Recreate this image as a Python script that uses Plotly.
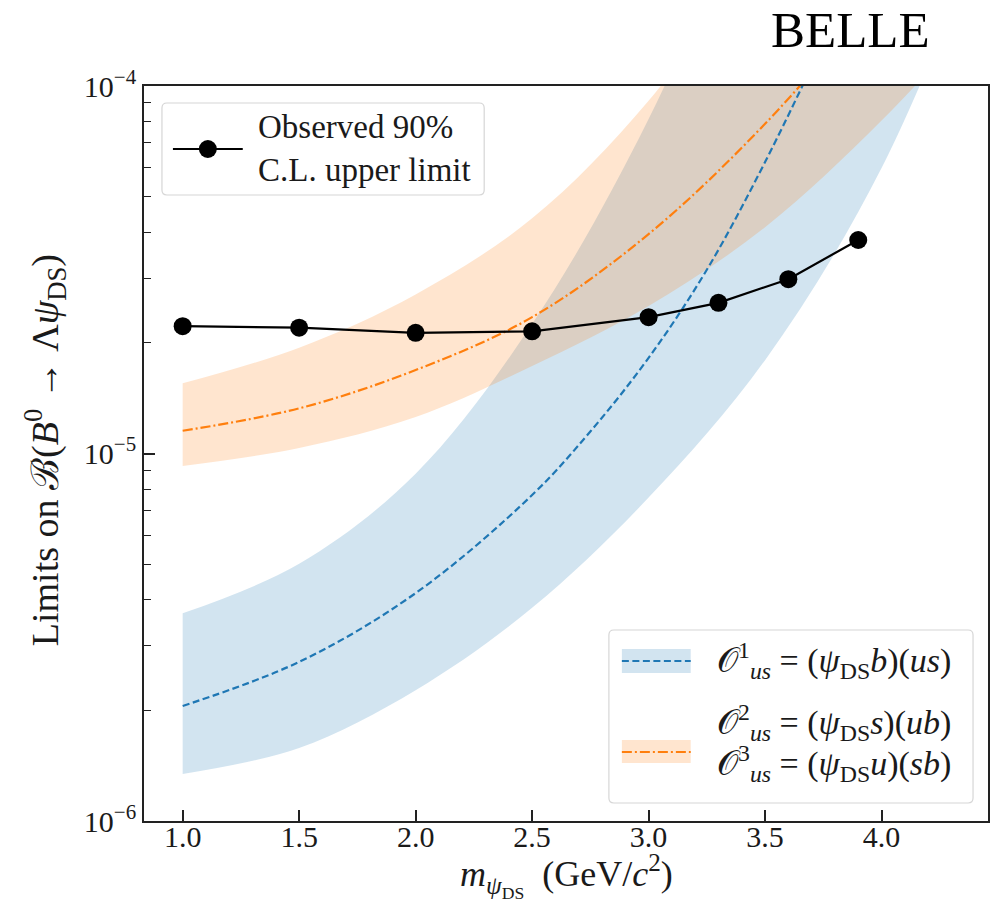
import plotly.graph_objects as go

# ---------------- data ----------------
band_grid = [1.0, 1.5, 2.0, 2.5, 3.0, 3.5, 4.0, 4.5]
o1_line_grid = [1.0, 1.5, 2.0, 2.5, 2.75, 3.0, 3.25, 3.5, 3.75]
o23_line_grid = [1.0, 1.5, 2.0, 2.5, 3.0, 3.5, 4.0]

# O1 (blue) central value and band
o1_central = [2.056e-6, 2.71e-6, 4.169e-6, 7.709e-6, 1.148e-5, 1.82e-5, 3.162e-5, 6.209e-5, 1.318e-4]
o1_upper = [3.673e-6, 5.01e-6, 8.81e-6, 2.25e-5, 8.13e-5, 4.47e-4, 3.55e-3, 3.98e-2]
o1_lower = [1.343e-6, 1.581e-6, 2.27e-6, 3.802e-6, 7.586e-6, 1.795e-5, 5.98e-5, 3.39e-4]

# O2/O3 (orange) central value and band
o23_central = [1.153e-5, 1.327e-5, 1.687e-5, 2.35e-5, 3.954e-5, 7.89e-5, 1.82e-4]
o23_upper = [1.552e-5, 1.941e-5, 2.71e-5, 4.365e-5, 9.12e-5, 2.51e-4, 7.94e-4, 2.8e-3]
o23_lower = [9.25e-6, 1.035e-5, 1.256e-5, 1.73e-5, 2.518e-5, 4.13e-5, 8.05e-5, 1.78e-4]

# Observed 90% C.L. upper limits
obs_mass = [1.0, 1.5, 2.0, 2.5, 3.0, 3.3, 3.6, 3.9]
obs_limit = [2.22e-5, 2.20e-5, 2.13e-5, 2.15e-5, 2.35e-5, 2.57e-5, 2.98e-5, 3.81e-5]

x_ticks = [1.0, 1.5, 2.0, 2.5, 3.0, 3.5, 4.0]
x_ticklabels = ["1.0", "1.5", "2.0", "2.5", "3.0", "3.5", "4.0"]
y_ticks = [1e-6, 1e-5, 1e-4]
y_ticklabels = ["10<sup>−6</sup>", "10<sup>−5</sup>", "10<sup>−4</sup>"]
y_minor = [m * 10 ** e for e in (-6, -5) for m in range(2, 10)]

# ---------------- style ----------------
BLUE = "#1f77b4"
ORANGE = "#ff7f0e"
BLUE_FILL = "rgba(31,119,180,0.2)"
ORANGE_FILL = "rgba(255,127,14,0.2)"
SERIF = "Liberation Serif, DejaVu Serif, serif"
TXT = "#1a1a1a"
W, H = 995, 903
L, R, T, B = 144, 990, 86, 821


def px(xp):
    return (xp - L) / (R - L)


def py(yp):
    return (B - yp) / (B - T)


fig = go.Figure()

# bands
fig.add_trace(go.Scatter(x=band_grid, y=o1_lower, mode="lines",
                         line=dict(width=0, shape="spline", color=BLUE),
                         hoverinfo="skip"))
fig.add_trace(go.Scatter(x=band_grid, y=o1_upper, mode="lines", fill="tonexty",
                         fillcolor=BLUE_FILL,
                         line=dict(width=0, shape="spline", color=BLUE),
                         hoverinfo="skip"))
fig.add_trace(go.Scatter(x=band_grid, y=o23_lower, mode="lines",
                         line=dict(width=0, shape="spline", color=ORANGE),
                         hoverinfo="skip"))
fig.add_trace(go.Scatter(x=band_grid, y=o23_upper, mode="lines", fill="tonexty",
                         fillcolor=ORANGE_FILL,
                         line=dict(width=0, shape="spline", color=ORANGE),
                         hoverinfo="skip"))

# central lines
fig.add_trace(go.Scatter(x=o1_line_grid, y=o1_central, mode="lines",
                         line=dict(color=BLUE, width=2.2, dash="7px,3.5px", shape="spline")))
fig.add_trace(go.Scatter(x=o23_line_grid, y=o23_central, mode="lines",
                         line=dict(color=ORANGE, width=2.2, dash="10px,3px,2px,3px", shape="spline")))

# observed limits
fig.add_trace(go.Scatter(x=obs_mass, y=obs_limit, mode="lines+markers",
                         line=dict(color="black", width=2.2),
                         marker=dict(color="black", size=18)))

shapes = []
annotations = []


def rounded_box(x0, y0, x1, y1, r=5):
    X0, X1 = px(x0), px(x1)
    Y0, Y1 = py(y0), py(y1)
    rx, ry = r / (R - L), r / (B - T)
    path = (f"M{X0+rx},{Y0} L{X1-rx},{Y0} Q{X1},{Y0} {X1},{Y0-ry} "
            f"L{X1},{Y1+ry} Q{X1},{Y1} {X1-rx},{Y1} L{X0+rx},{Y1} "
            f"Q{X0},{Y1} {X0},{Y1+ry} L{X0},{Y0-ry} Q{X0},{Y0} {X0+rx},{Y0} Z")
    shapes.append(dict(type="path", xref="paper", yref="paper", path=path,
                       line=dict(color="rgb(214,214,214)", width=1.2),
                       fillcolor="rgba(255,255,255,0.85)", layer="above"))


# legend 1
rounded_box(162, 103, 485, 195)
shapes.append(dict(type="line", xref="paper", yref="paper",
                   x0=px(173), x1=px(243), y0=py(149), y1=py(149),
                   line=dict(color="black", width=2.2), layer="above"))
shapes.append(dict(type="circle", xref="paper", yref="paper",
                   x0=px(208 - 9), x1=px(208 + 9), y0=py(149 - 9), y1=py(149 + 9),
                   fillcolor="black", line=dict(color="black", width=0), layer="above"))
annotations.append(dict(xref="paper", yref="paper", x=px(256), y=py(148),
                        xanchor="left", yanchor="middle", showarrow=False, align="left",
                        text="Observed 90%<br>C.L. upper limit",
                        font=dict(family=SERIF, size=33, color=TXT)))

# legend 2
rounded_box(610, 630, 975, 803)
shapes.append(dict(type="rect", xref="paper", yref="paper",
                   x0=px(623), x1=px(692), y0=py(673), y1=py(649),
                   fillcolor=BLUE_FILL, line=dict(width=0), layer="above"))
shapes.append(dict(type="line", xref="paper", yref="paper",
                   x0=px(623), x1=px(692), y0=py(661), y1=py(661),
                   line=dict(color=BLUE, width=2.2, dash="7px,3.5px"), layer="above"))
shapes.append(dict(type="rect", xref="paper", yref="paper",
                   x0=px(623), x1=px(692), y0=py(763), y1=py(740),
                   fillcolor=ORANGE_FILL, line=dict(width=0), layer="above"))
shapes.append(dict(type="line", xref="paper", yref="paper",
                   x0=px(623), x1=px(692), y0=py(752), y1=py(752),
                   line=dict(color=ORANGE, width=2.2, dash="10px,3px,2px,3px"), layer="above"))
LEG_SIZE = 34
annotations.append(dict(xref="paper", yref="paper", x=px(716), y=py(660),
                        xanchor="left", yanchor="middle", showarrow=False, align="left",
                        text="𝒪<sup>1</sup><sub><i>us</i></sub> = (<i>ψ</i><sub>DS</sub><i>b</i>)(<i>us</i>)",
                        font=dict(family=SERIF, size=LEG_SIZE, color=TXT)))
annotations.append(dict(xref="paper", yref="paper", x=px(716), y=py(722),
                        xanchor="left", yanchor="middle", showarrow=False, align="left",
                        text="𝒪<sup>2</sup><sub><i>us</i></sub> = (<i>ψ</i><sub>DS</sub><i>s</i>)(<i>ub</i>)",
                        font=dict(family=SERIF, size=LEG_SIZE, color=TXT)))
annotations.append(dict(xref="paper", yref="paper", x=px(716), y=py(763),
                        xanchor="left", yanchor="middle", showarrow=False, align="left",
                        text="𝒪<sup>3</sup><sub><i>us</i></sub> = (<i>ψ</i><sub>DS</sub><i>u</i>)(<i>sb</i>)",
                        font=dict(family=SERIF, size=LEG_SIZE, color=TXT)))

# axis titles and BELLE label
annotations.append(dict(xref="paper", yref="paper", x=0.5, y=py(876),
                        xanchor="center", yanchor="middle", showarrow=False,
                        text="<i>m</i><sub><i>ψ</i><sub>DS</sub></sub>  (GeV/<i>c</i><sup>2</sup>)",
                        font=dict(family=SERIF, size=36, color=TXT)))
annotations.append(dict(xref="paper", yref="paper", x=px(45), y=py(450),
                        xanchor="center", yanchor="middle", showarrow=False, textangle=-90,
                        text="Limits on ℬ(<i>B</i><sup>0</sup> → Λ<i>ψ</i><sub>DS</sub>)",
                        font=dict(family=SERIF, size=38, color=TXT)))
annotations.append(dict(xref="paper", yref="paper", x=px(852), y=py(30),
                        xanchor="center", yanchor="middle", showarrow=False,
                        text="BELLE",
                        font=dict(family=SERIF, size=51, color="black")))

fig.update_layout(
    width=W, height=H,
    margin=dict(l=L, r=W - R, t=T, b=H - B),
    plot_bgcolor="white", paper_bgcolor="white",
    showlegend=False,
    shapes=shapes, annotations=annotations,
    xaxis=dict(range=[0.834, 4.457], tickmode="array", tickvals=x_ticks, ticktext=x_ticklabels,
               ticks="inside", ticklen=11, tickwidth=1.5, tickcolor="#222",
               ticklabelstandoff=-12,
               showline=True, mirror=True, linecolor="#222", linewidth=1.6,
               showgrid=False, zeroline=False,
               tickfont=dict(family=SERIF, size=30, color=TXT)),
    yaxis=dict(type="log", range=[-6, -4], tickmode="array", tickvals=y_ticks, ticktext=y_ticklabels,
               ticks="inside", ticklen=11, tickwidth=1.5, tickcolor="#222",
               minor=dict(tickmode="array", tickvals=y_minor, ticks="inside", ticklen=7,
                          tickwidth=1.2, tickcolor="#222", showgrid=False),
               showline=True, mirror=True, linecolor="#222", linewidth=1.6,
               showgrid=False, zeroline=False,
               tickfont=dict(family=SERIF, size=30, color=TXT)),
)

fig.write_html("out.html")
